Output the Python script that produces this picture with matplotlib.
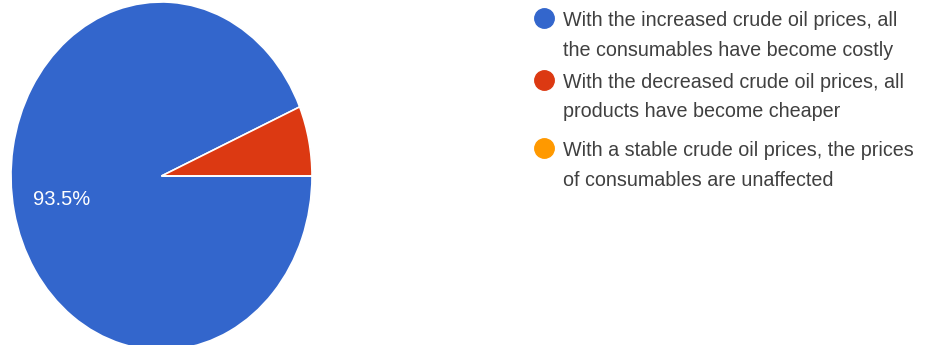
import matplotlib
matplotlib.use("Agg")
import matplotlib.pyplot as plt

plt.rcParams['font.family'] = ['Liberation Sans', 'DejaVu Sans']

labels = [
    "With the increased crude oil prices, all\nthe consumables have become costly",
    "With the decreased crude oil prices, all\nproducts have become cheaper",
    "With a stable crude oil prices, the prices\nof consumables are unaffected",
]
shares = [93.5, 6.5, 0.0]
colors = ['#3366CC', '#DC3912', '#FF9900']

W, H = 926, 345
fig = plt.figure(figsize=(W / 100, H / 100), dpi=100)

# pie is stretched vertically in the reference, so no equal aspect
ax = fig.add_axes([11 / W, -5 / H, 301 / W, 348 / H])


def pct_label(p):
    return '%.1f%%' % p if p > 10 else ''


wedges, texts, autotexts = ax.pie(
    shares, colors=colors, startangle=0, counterclock=False,
    autopct=pct_label, pctdistance=0.675,
    wedgeprops=dict(edgecolor='white', linewidth=1.2),
    textprops=dict(color='white', fontsize=14.5),
)
ax.set_aspect('auto')
ax.set_xlim(-1, 1)
ax.set_ylim(-1, 1)
ax.axis('off')

# legend, drawn by hand to match the wrapped two-line entries
row_top = [26, 88, 156]
line_gap = 29.5
for i, lab in enumerate(labels):
    y0 = row_top[i]
    fig.add_artist(plt.Line2D([544 / W], [1 - (y0 - 8) / H], marker='o',
                              markersize=14, color=colors[i],
                              linestyle='', transform=fig.transFigure))
    for j, line in enumerate(lab.split('\n')):
        fig.text(563 / W, 1 - (y0 + j * line_gap) / H, line,
                 fontsize=14.2, color='#404040', va='baseline', ha='left')

fig.savefig('out.png', dpi=100)
